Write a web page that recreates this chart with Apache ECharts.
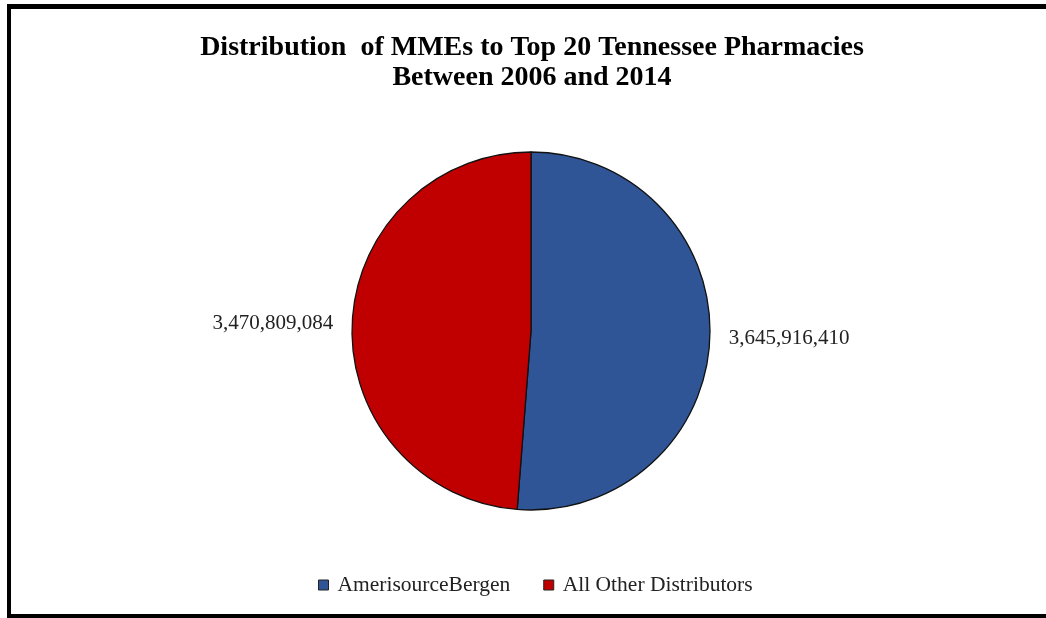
<!DOCTYPE html>
<html>
<head>
<meta charset="utf-8">
<script src="https://cdn.jsdelivr.net/npm/echarts@6/dist/echarts.min.js"></script>
<style>
  html, body { margin: 0; padding: 0; background: #fff; overflow: hidden; }
  #frame {
    position: absolute; left: 7px; top: 4px; width: 1060px; height: 614px;
    border-left: 4px solid #000; border-top: 5px solid #000; border-bottom: 4px solid #000;
    box-sizing: border-box;
  }
  #chart { position: absolute; left: 0; top: 0; width: 1064px; height: 618px; }
</style>
</head>
<body>
<div id="frame"></div>
<div id="chart"></div>
<script>
// MMEs shipped to the top 20 Tennessee pharmacies, 2006-2014
const categories = ['AmerisourceBergen', 'All Other Distributors'];
const values = [3645916410, 3470809084];
const colors = ['#2F5597', '#C00000'];
const titleLines = ['Distribution  of MMEs to Top 20 Tennessee Pharmacies', 'Between 2006 and 2014'];

const fmt = v => v.toLocaleString('en-US');
const serif = '"Liberation Serif", "Times New Roman", serif';

const chart = echarts.init(document.getElementById('chart'), null, { renderer: 'canvas' });
chart.setOption({
  backgroundColor: 'transparent',
  animation: false,
  title: {
    text: titleLines.join('\n'),
    left: 'center',
    top: 28,
    textStyle: { fontFamily: serif, fontWeight: 'bold', fontSize: 28, color: '#000', lineHeight: 30 }
  },
  legend: {
    bottom: 17,
    left: 313,
    icon: 'rect',
    itemWidth: 10,
    itemHeight: 10,
    itemGap: 33,
    textStyle: { fontFamily: serif, fontSize: 21.5, color: '#222', padding: [0, 0, 0, 4] },
    itemStyle: { borderColor: '#222', borderWidth: 1 },
    data: categories
  },
  series: [{
    type: 'pie',
    center: [531, 331],
    radius: 179,
    startAngle: 90,
    clockwise: true,
    itemStyle: { borderColor: '#111', borderWidth: 1.3 },
    label: {
      show: true,
      position: 'outside',
      formatter: p => fmt(p.value),
      fontFamily: serif,
      fontSize: 21,
      color: '#222',
      distanceToLabelLine: 4
    },
    labelLine: { show: false, length: 15, length2: 0 },
    emphasis: { disabled: true },
    data: categories.map((name, i) => ({ name, value: values[i], itemStyle: { color: colors[i] } }))
  }]
});
</script>
</body>
</html>
